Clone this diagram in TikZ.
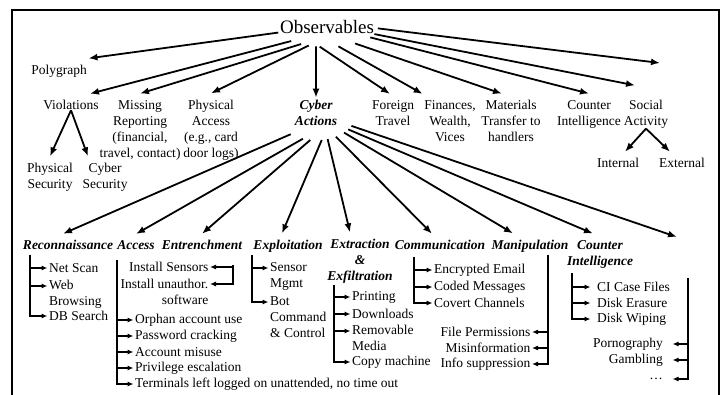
\documentclass[tikz,border=0pt]{standalone}
\usepackage{fontspec}
\setmainfont{Liberation Serif}
\usetikzlibrary{arrows.meta,shapes.geometric}

\begin{document}
\begin{tikzpicture}[x=1pt, y=-1pt,
      every node/.style = {inner sep=1.5pt, align=center,
        font=\fontsize{13.5}{16}\selectfont},
      cat/.style = {outer ysep=5pt},
      act/.style = {outer ysep=5pt,
        font=\fontsize{13.5}{16}\selectfont\bfseries\itshape},
      leaf/.style = {anchor=west, align=left},
      rleaf/.style = {anchor=east, align=right},
      arr/.style = {line width=1.8pt, -{Latex[length=9pt,width=7pt]}},
      branch/.style = {line width=1.1pt, -{Latex[length=6pt,width=5pt]}}]
  \useasboundingbox (0,0) rectangle (725,395);
  \draw[line width=1.2pt] (12,395) |- (719,10) -- (719,395);

  \node[ellipse, inner xsep=-11pt, inner ysep=7.5pt,
    font=\fontsize{19}{22}\selectfont] (obs) at (327,26.6) {Observables};
  \node[cat] (poly) at (59,71) {Polygraph};
  \node[cat] (viol) at (71,105) {Violations};
  \node[cat] (miss) at (140,130) {Missing\\Reporting\\(financial,\\travel, contact)};
  \node[cat] (phys) at (211,130) {Physical\\Access\\(e.g., card\\door logs)};
  \node[ellipse, inner xsep=7.3pt, inner ysep=6.4pt,
    font=\fontsize{13.5}{16}\selectfont\bfseries\itshape] (cyber) at (316,113) {Cyber\\Actions};
  \node[cat] (foreign) at (393,113) {Foreign\\Travel};
  \node[cat] (fin) at (450,121) {Finances,\\Wealth,\\Vices};
  \node[cat] (mat) at (511,121) {Materials\\Transfer to\\handlers};
  \node[cat] (ci) at (589,114) {Counter\\Intelligence};
  \node[cat] (social) at (646,114) {Social\\Activity};
  \coordinate (obsx) at (660,63);
  \node[cat] (physsec) at (50,177) {Physical\\Security};
  \node[cat] (cybsec) at (105,177) {Cyber\\Security};
  \node[cat] (internal) at (618,163) {Internal};
  \node[cat] (external) at (682,163) {External};

  \draw[arr] (obs.187) -- (poly.north east);
  \draw[arr] (obs.202) -- ([xshift=19pt]viol.north);
  \draw[arr] (obs.214) -- (miss.north);
  \draw[arr] (obs.226) -- (phys.north);
  \draw[arr] (obs.241) -- ([yshift=-12pt]cyber.north);
  \draw[arr] (obs.250) -- ([xshift=-3pt]foreign.north);
  \draw[arr] (obs.300) -- (fin.north west);
  \draw[arr] (obs.329) -- ([xshift=-9pt]mat.north);
  \draw[arr] (obs.346) -- (ci.north);
  \draw[arr] (obs.351) -- ([xshift=-11pt,yshift=8pt]social.north);
  \draw[arr] (obs.358) -- (obsx);
  \draw[arr] ([yshift=6pt]viol.south) -- (physsec.north);
  \draw[arr] ([yshift=6pt]viol.south) -- ([xshift=-17pt]cybsec.north);
  \draw[arr] ([yshift=6pt]social.south) -- ([xshift=7pt]internal.north);
  \draw[arr] ([yshift=6pt]social.south) -- ([xshift=-12pt]external.north);

  \node[act] (recon) at (68,245) {Reconnaissance};
  \node[act] (access) at (136,245) {Access};
  \node[act] (entr) at (202,245) {Entrenchment};
  \node[act] (expl) at (288,246) {Exploitation};
  \node[act] (extr) at (360,261) {Extraction\\\&\\Exfiltration};
  \node[act] (comm) at (440,245) {Communication};
  \node[act] (manip) at (530,246) {Manipulation};
  \node[act] (counter) at (600,254) {Counter\\Intelligence};
  \coordinate (cybx) at (677,237);

  \draw[arr] (cyber.220) -- ([xshift=-5pt]recon.north);
  \draw[arr] (cyber.243) -- (access.north);
  \draw[arr] (cyber.258) -- (entr.north);
  \draw[arr] (cyber.282) -- ([xshift=-6pt]expl.north);
  \draw[arr] (cyber.294) -- ([xshift=-10pt]extr.north);
  \draw[arr] (cyber.310) -- ([xshift=-8pt]comm.north);
  \draw[arr] (cyber.325) -- ([xshift=-17pt]manip.north);
  \draw[arr] (cyber.333) -- ([xshift=-7pt]counter.north);
  \draw[arr] (cyber.340) -- (cybx);

  \node[leaf] (netscan) at (47.5,268) {Net Scan};
  \node[leaf] (web) at (47.5,294) {Web\\Browsing};
  \node[leaf] (dbs) at (47.5,316) {DB Search};
  \coordinate (recont) at (30,255);
  \draw[branch] (recont) |- (netscan);
  \draw[branch] (recont) |- ([yshift=8pt]web.west);
  \draw[branch] (recont) |- (dbs);

  \node[leaf] (orphan) at (133.5,320) {Orphan account use};
  \node[leaf] (passwd) at (133.5,336) {Password cracking};
  \node[leaf] (misuse) at (133.5,352) {Account misuse};
  \node[leaf] (priv) at (133.5,368) {Privilege escalation};
  \node[leaf] (term) at (133.5,384) {Terminals left logged on unattended, no time out};
  \coordinate (accesst) at (117,260);
  \foreach \n in {orphan,passwd,misuse,priv,term}
    \draw[branch] (accesst) |- (\n);

  \node[rleaf] (sensors) at (210,267) {Install Sensors};
  \node[rleaf] (unauth) at (210,292) {Install unauthor.\\software};
  \coordinate (entrt) at (233,265);
  \draw[branch] (entrt) |- (sensors);
  \draw[branch] (entrt) |- ([yshift=8pt]unauth.east);

  \node[leaf] (sensor) at (268.5,276) {Sensor\\Mgmt};
  \node[leaf] (bot) at (268.5,317) {Bot\\Command\\\& Control};
  \coordinate (explt) at (252,255);
  \draw[branch] (explt) |- ([yshift=8pt]sensor.west);
  \draw[branch] (explt) |- ([yshift=15pt]bot.west);

  \node[leaf] (print) at (350.5,297) {Printing};
  \node[leaf] (down) at (350.5,314) {Downloads};
  \node[leaf] (remov) at (350.5,338) {Removable\\Media};
  \node[leaf] (copy) at (350.5,362) {Copy machine};
  \coordinate (extrt) at (334,285);
  \draw[branch] (extrt) |- (print);
  \draw[branch] (extrt) |- (down);
  \draw[branch] (extrt) |- ([yshift=7pt]remov.west);
  \draw[branch] (extrt) |- (copy);

  \node[leaf] (enc) at (432.5,270) {Encrypted Email};
  \node[leaf] (coded) at (432.5,287) {Coded Messages};
  \node[leaf] (covert) at (432.5,303) {Covert Channels};
  \coordinate (commt) at (414,257);
  \foreach \n in {enc,coded,covert}
    \draw[branch] (commt) |- (\n);

  \node[rleaf] (perm) at (532,332) {File Permissions};
  \node[rleaf] (misinf) at (532,348) {Misinformation};
  \node[rleaf] (supp) at (532,364) {Info suppression};
  \coordinate (manipt) at (548,255);
  \foreach \n in {perm,misinf,supp}
    \draw[branch] (manipt) |- (\n);

  \node[leaf] (cif) at (595.5,287) {CI Case Files};
  \node[leaf] (erase) at (595.5,303) {Disk Erasure};
  \node[leaf] (wipe) at (595.5,319) {Disk Wiping};
  \coordinate (countert) at (572,273);
  \foreach \n in {cif,erase,wipe}
    \draw[branch, shorten >=5pt] (countert) |- (\n);

  \node[rleaf] (porn) at (664.5,344) {Pornography};
  \node[rleaf] (gamb) at (664.5,360) {Gambling};
  \node[rleaf] (more) at (664.5,379) {\dots};
  \coordinate (moret) at (688,278);
  \foreach \n in {porn,gamb,more}
    \draw[branch, shorten >=8pt] (moret) |- (\n);
\end{tikzpicture}
\end{document}
